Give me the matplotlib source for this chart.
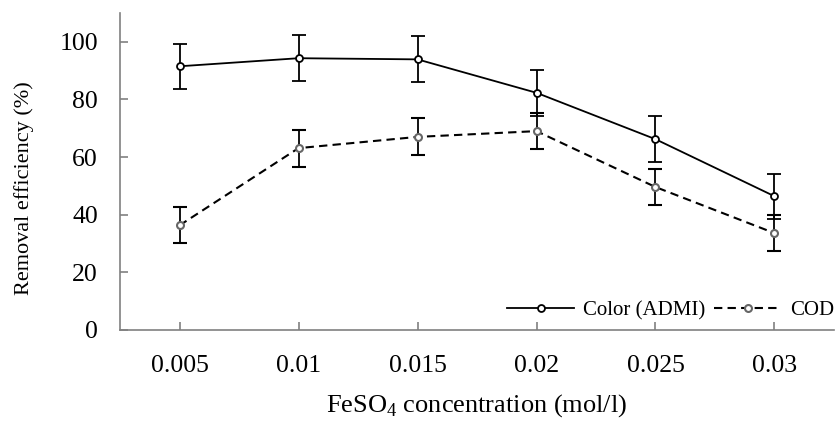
import matplotlib
matplotlib.use("Agg")
import matplotlib.pyplot as plt

plt.rcParams['font.family'] = ['Liberation Serif', 'DejaVu Serif']
plt.rcParams['mathtext.fontset'] = 'custom'
plt.rcParams['mathtext.rm'] = 'Liberation Serif'

# data
conc = ["0.005", "0.01", "0.015", "0.02", "0.025", "0.03"]
color_admi = [91.5, 94.3, 93.9, 82.3, 66.2, 46.4]
color_err = [7.8, 8.0, 8.0, 8.0, 7.9, 7.8]
cod = [36.3, 63.1, 67.0, 69.0, 49.6, 33.6]
cod_err = [6.2, 6.4, 6.4, 6.3, 6.4, 6.3]

fig = plt.figure(figsize=(8.37, 4.21), dpi=100)
ax = fig.add_axes([0.1434, 0.2162, 0.853, 0.753])

x = list(range(len(conc)))
ax.errorbar(x, color_admi, yerr=color_err, color='black', lw=1.3,
            marker='o', ms=5, mfc='white', mec='black', mew=1.3,
            capsize=5, elinewidth=1.3, capthick=1.3, label='Color (ADMI)')
ax.errorbar(x, cod, yerr=cod_err, color='black', lw=1.5, ls=(0, (4, 2.5)),
            marker='o', ms=5, mfc='white', mec='#666666', mew=1.5,
            capsize=5, elinewidth=1.3, capthick=1.3, label='COD')

ax.set_xlim(-0.5, 5.5)
ax.set_ylim(0, 110)
ax.set_xticks(x)
ax.set_xticklabels(conc)
ax.set_yticks([0, 20, 40, 60, 80, 100])

for s in ['top', 'right']:
    ax.spines[s].set_visible(False)
for s in ['left', 'bottom']:
    ax.spines[s].set_color('#808080')
    ax.spines[s].set_linewidth(1.2)
ax.tick_params(direction='in', length=6, width=1.2, color='#808080')
ax.tick_params(axis='x', labelsize=18.5, pad=18)
ax.tick_params(axis='y', labelsize=18.5, pad=16)

ax.set_ylabel('Removal efficiency (%)', fontsize=16)
ax.yaxis.set_label_coords(-0.12, 0.448)
ax.set_xlabel(r'FeSO$_\mathregular{4}$ concentration (mol/l)', fontsize=19,
              labelpad=11)

handles, labels = ax.get_legend_handles_labels()
handles = [h[0] for h in handles]
ax.legend(handles, labels, loc='center right', ncol=2, frameon=False,
          fontsize=15, bbox_to_anchor=(1.0, 0.062), handlelength=3.2,
          columnspacing=0.43, handletextpad=0.43, borderpad=0,
          borderaxespad=0)

fig.savefig('out.png', dpi=100)
